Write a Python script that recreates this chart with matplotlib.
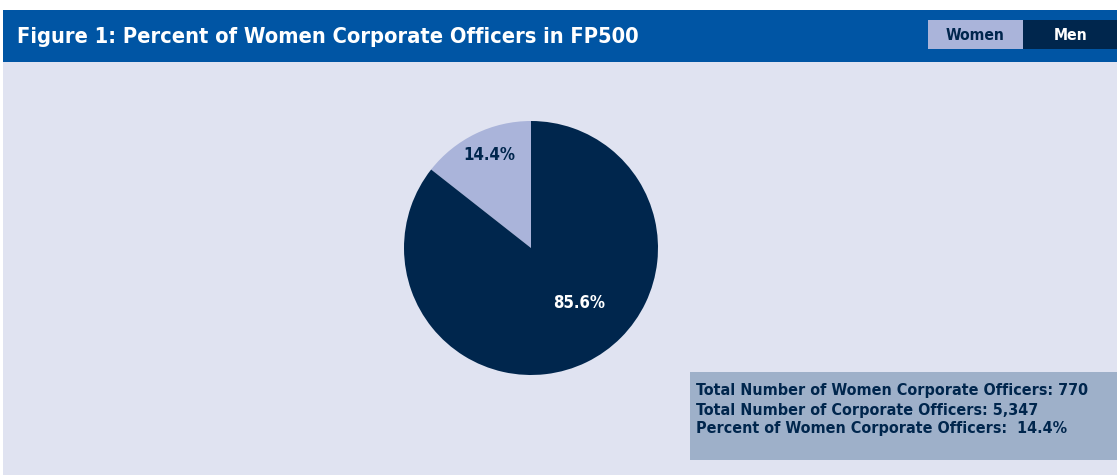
import matplotlib.pyplot as plt
from matplotlib.patches import Rectangle
import numpy as np

# data
labels = ['Women', 'Men']
shares = [14.4, 85.6]
women_officers = 770
total_officers = 5347

navy = '#00264D'
lilac = '#AAB4DA'
blue = '#0055A4'
bg = '#E0E3F1'
boxc = '#9EB0C9'

plt.rcParams['font.family'] = ['DejaVu Sans']
plt.rcParams['font.stretch'] = 'condensed'

W, H = 1117, 475
fig = plt.figure(figsize=(W / 100, H / 100), dpi=100)
fig.patch.set_facecolor('white')
renderer = fig.canvas.get_renderer()

def px(x, y, w, h):
    return (x / W, 1 - (y + h) / H, w / W, h / H)

def rect(x, y, w, h, c):
    l, b, ww, hh = px(x, y, w, h)
    fig.patches.append(Rectangle((l, b), ww, hh, transform=fig.transFigure,
                                 facecolor=c, edgecolor='none', zorder=-5))

def fit(t, width):
    # shrink the font until the text is as wide as in the reference
    size = t.get_fontsize()
    for _ in range(4):
        w = t.get_window_extent(renderer).width
        size = size * width / w
        t.set_fontsize(size)
    return t

# background + header
rect(3, 62, W - 3, H - 62, bg)
rect(3, 10, W - 3, 52, blue)
fit(fig.text(17 / W, 1 - 37 / H, 'Figure 1: Percent of Women Corporate Officers in FP500',
             color='white', fontsize=20, fontweight='bold', va='center', ha='left'), 623)

# legend boxes
rect(928, 20, 95, 29, lilac)
rect(1023, 20, 94, 29, navy)
fit(fig.text(975 / W, 1 - 36 / H, labels[0], color=navy, fontsize=13, fontweight='bold',
             ha='center', va='center'), 59)
fit(fig.text(1071 / W, 1 - 36 / H, labels[1], color='white', fontsize=13, fontweight='bold',
             ha='center', va='center'), 34)

# pie
ax = fig.add_axes(px(404, 121, 254, 254))
ax.set_zorder(2)
wedges, _ = ax.pie(shares, colors=[lilac, navy], startangle=90, counterclock=True,
                   radius=1, wedgeprops=dict(linewidth=0))
ax.set_xlim(-1, 1)
ax.set_ylim(-1, 1)
ax.set_aspect('equal')
ax.axis('off')
fit(ax.text(-0.33, 0.73, f'{shares[0]}%', color=navy, fontsize=13, fontweight='bold',
            ha='center', va='center'), 52)
fit(ax.text(0.38, -0.43, f'{shares[1]}%', color='white', fontsize=13, fontweight='bold',
            ha='center', va='center'), 52)

# info box
rect(690, 372, W - 690, 88, boxc)
lines = [f'Total Number of Women Corporate Officers: {women_officers}',
         f'Total Number of Corporate Officers: {total_officers:,}',
         f'Percent of Women Corporate Officers:  {women_officers / total_officers * 100:.1f}%']
t0 = fit(fig.text(696 / W, 1 - 391 / H, lines[0], color=navy, fontsize=12.5,
                  fontweight='bold', ha='left', va='center'), 391)
for i, t in enumerate(lines[1:], start=1):
    fig.text(696 / W, 1 - (391 + i * 19) / H, t, color=navy, fontsize=t0.get_fontsize(),
             fontweight='bold', ha='left', va='center')

fig.savefig('out.png', dpi=100)
